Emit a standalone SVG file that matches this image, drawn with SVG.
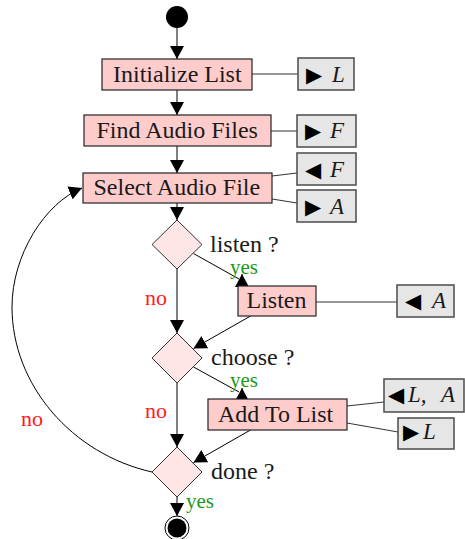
<svg xmlns="http://www.w3.org/2000/svg" width="465" height="539" viewBox="0 0 465 539">
  <defs>
    <marker id="arrow" markerUnits="userSpaceOnUse" viewBox="0 0 14 14" markerWidth="14" markerHeight="14" refX="13" refY="7" orient="auto">
      <path d="M0,0 L13,7 L0,14 z" fill="#000"/>
    </marker>
  </defs>
  <style>
    .step rect { fill: #ffcccc; stroke: #222; stroke-width: 1.2; }
    .choice polygon { fill: #ffe6e6; stroke: #333; stroke-width: 1; }
    .io rect { fill: #e6e6e6; stroke: #555; stroke-width: 1.6; }
    text { fill: #1a1a1a; }
    .lbl { font-size: 24px; }
    .tri { font-size: 21px; fill: #000; }
    .var { font-style: italic; font-size: 23px; }
    .no { fill: #ff1a1a; font-size: 22px; }
    .yes { fill: #1a9a1a; font-size: 21px; }
    .flow { stroke: #000; stroke-width: 1; fill: none; marker-end: url(#arrow); }
    .link { stroke: #333; stroke-width: 1; fill: none; }
  </style>

  <!-- connectors -->
  <g id="connectors">
    <path class="flow" d="M177,28 L177,59"/>
    <path class="flow" d="M177,90 L177,115"/>
    <path class="flow" d="M177,146 L177,173"/>
    <path class="flow" d="M177,203 L177,220"/>
    <path class="flow" d="M177,269 L177,333"/>
    <path class="flow" d="M177,383 L177,447"/>
    <path class="flow" d="M177,497 L177,516"/>
    <!-- listen? yes branch -->
    <path class="link" style="stroke:#000" d="M193.5,253.5 L239,279"/>
    <path class="flow" d="M242,287 L242,274"/>
    <!-- back from Listen -->
    <path class="flow" d="M250.5,316 L193.5,348.5"/>
    <!-- choose? yes branch -->
    <path class="link" style="stroke:#000" d="M193.5,367 L239,392"/>
    <path class="flow" d="M242,400 L242,388"/>
    <!-- back from Add To List -->
    <path class="flow" d="M250.5,430 L193.5,462.5"/>
    <!-- done? no: loop back to Select Audio File -->
    <path class="flow" d="M152,472 C72,454 12,385 12,307 C12,255 45,203 82,188"/>
    <!-- data links -->
    <path class="link" d="M252,74 L298,74"/>
    <path class="link" d="M271,131 L297,131"/>
    <path class="link" d="M272,176 L297,173"/>
    <path class="link" d="M272,199 L297,203"/>
    <path class="link" d="M316,302 L397,302"/>
    <path class="link" d="M347,406 L384,402"/>
    <path class="link" d="M347,423 L398,432"/>
  </g>

  <!-- start / end -->
  <g id="start"><circle cx="177" cy="17" r="11" fill="#000"/></g>
  <g id="end">
    <circle cx="177" cy="528" r="12" fill="#fff" stroke="#000" stroke-width="1"/>
    <circle cx="177" cy="528" r="9.5" fill="#000"/>
  </g>

  <!-- actions -->
  <g id="init" class="step">
    <rect x="102" y="59" width="150" height="31"/>
    <text class="lbl" font-family="Liberation Serif" x="113" y="82">Initialize List</text>
  </g>
  <g id="find" class="step">
    <rect x="84" y="115" width="187" height="31"/>
    <text class="lbl" font-family="Liberation Serif" x="96.5" y="138">Find Audio Files</text>
  </g>
  <g id="select" class="step">
    <rect x="83" y="173" width="189" height="30"/>
    <text class="lbl" font-family="Liberation Serif" x="93.5" y="195">Select Audio File</text>
  </g>
  <g id="listen" class="step">
    <rect x="238" y="286" width="78" height="30"/>
    <text class="lbl" font-family="Liberation Serif" x="246.5" y="308">Listen</text>
  </g>
  <g id="add" class="step">
    <rect x="208" y="399" width="139" height="31"/>
    <text class="lbl" font-family="Liberation Serif" x="218" y="422">Add To List</text>
  </g>

  <!-- decisions -->
  <g id="q-listen" class="choice">
    <polygon points="177,220 202,244.5 177,269 152,244.5"/>
    <text class="lbl" font-family="Liberation Serif" x="210" y="252">listen ?</text>
  </g>
  <g id="q-choose" class="choice">
    <polygon points="177,333 202,358 177,383 152,358"/>
    <text class="lbl" font-family="Liberation Serif" x="211" y="365">choose ?</text>
  </g>
  <g id="q-done" class="choice">
    <polygon points="177,447 202,472 177,497 152,472"/>
    <text class="lbl" font-family="Liberation Serif" x="211" y="479">done ?</text>
  </g>

  <!-- branch labels -->
  <g id="branch-labels">
    <text class="yes" font-family="Liberation Serif" x="230" y="274">yes</text>
    <text class="yes" font-family="Liberation Serif" x="230" y="387">yes</text>
    <text class="yes" font-family="Liberation Serif" x="186" y="508">yes</text>
    <text class="no" font-family="Liberation Serif" x="145" y="305">no</text>
    <text class="no" font-family="Liberation Serif" x="145" y="418">no</text>
    <text class="no" font-family="Liberation Serif" x="21" y="426">no</text>
  </g>

  <!-- data pins -->
  <g id="out-l1" class="io">
    <rect x="298" y="58" width="56" height="32"/>
    <text font-family="Liberation Serif"><tspan class="tri" font-family="DejaVu Sans" x="306" y="82">▶</tspan><tspan class="var" x="332" y="82">L</tspan></text>
  </g>
  <g id="out-f" class="io">
    <rect x="297" y="115" width="59" height="32"/>
    <text font-family="Liberation Serif"><tspan class="tri" font-family="DejaVu Sans" x="305" y="138">▶</tspan><tspan class="var" x="330" y="138">F</tspan></text>
  </g>
  <g id="in-f" class="io">
    <rect x="297" y="153" width="59" height="32"/>
    <text font-family="Liberation Serif"><tspan class="tri" font-family="DejaVu Sans" x="305" y="177">◀</tspan><tspan class="var" x="330" y="177">F</tspan></text>
  </g>
  <g id="out-a" class="io">
    <rect x="297" y="190" width="59" height="32"/>
    <text font-family="Liberation Serif"><tspan class="tri" font-family="DejaVu Sans" x="305" y="214">▶</tspan><tspan class="var" x="330" y="214">A</tspan></text>
  </g>
  <g id="in-a" class="io">
    <rect x="397" y="285" width="57" height="32"/>
    <text font-family="Liberation Serif"><tspan class="tri" font-family="DejaVu Sans" x="405" y="308">◀</tspan><tspan class="var" x="432" y="308">A</tspan></text>
  </g>
  <g id="in-la" class="io">
    <rect x="384" y="379" width="80" height="33"/>
    <text font-family="Liberation Serif"><tspan class="tri" font-family="DejaVu Sans" x="388" y="402">◀</tspan><tspan class="var" x="408" y="402">L, </tspan><tspan class="var" x="441" y="402">A</tspan></text>
  </g>
  <g id="out-l2" class="io">
    <rect x="398" y="418" width="56" height="31"/>
    <text font-family="Liberation Serif"><tspan class="tri" font-family="DejaVu Sans" x="403" y="439">▶</tspan><tspan class="var" x="423" y="439">L</tspan></text>
  </g>
</svg>
